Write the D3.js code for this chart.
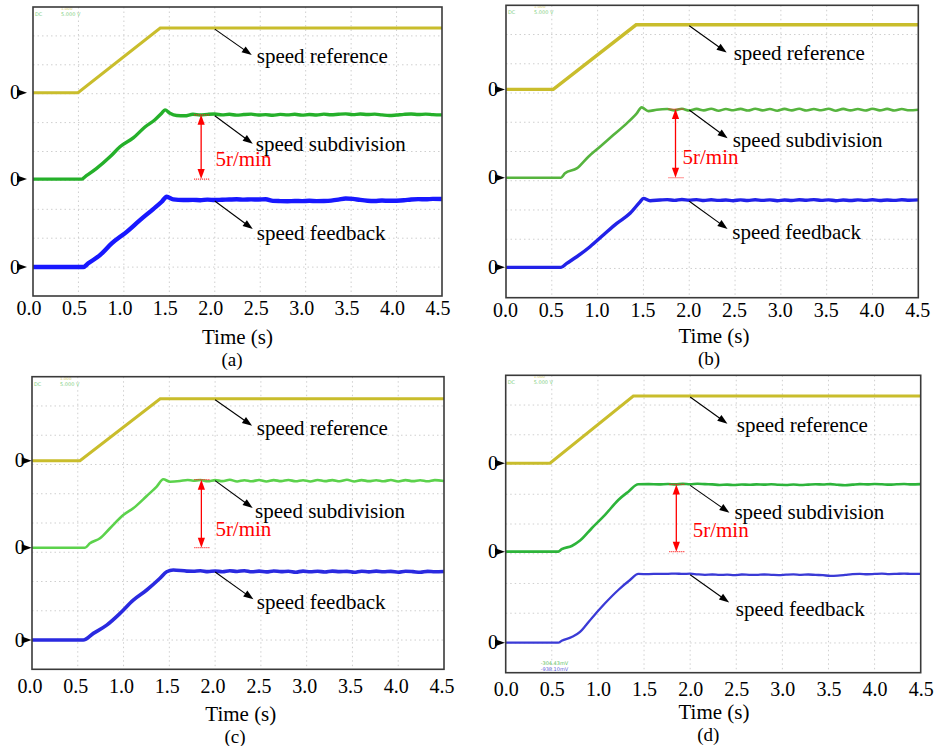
<!DOCTYPE html>
<html>
<head>
<meta charset="utf-8">
<script src="https://cdn.jsdelivr.net/npm/d3@7"></script>
<style>
  body { margin: 0; background: #fff; }
  svg { display: block; }
  text { font-family: "Liberation Serif", "Times New Roman", serif; }
</style>
</head>
<body>
<svg id="chart" width="935" height="746" font-family="Liberation Serif, serif"></svg>
<script>
// ---- shared labels ----
const xTicks = [0, 0.5, 1.0, 1.5, 2.0, 2.5, 3.0, 3.5, 4.0, 4.5];
const xTickLabels = ["0.0", "0.5", "1.0", "1.5", "2.0", "2.5", "3.0", "3.5", "4.0", "4.5"];
const panelLetters = ["(a)", "(b)", "(c)", "(d)"];
const traceNames = ["speed reference", "speed subdivision", "speed feedback"];
const axisTitle = "Time (s)";
const stepLabel = "5r/min";
const stepValue = 5;          // r/min marked by the red bracket
const stepTime = 1.85;        // s, where the bracket sits
const annotTime = 2.0;        // s, where the pointer arrows start

// channel zero levels on each screen (r/min, feedback channel at 0)
const refZero = [13.55, 12.95, 13.18, 13.34];
const subZero = [6.84, 6.52, 6.79, 6.77];
const fbZero  = [0, 0, 0, 0];

// ---- speed reference [t (s), r/min] ----
const refA = [[0, 0], [0.495, 0], [1.40, 5.03], [4.5, 5.03]];
const refB = [[0, 0], [0.516, 0], [1.42, 4.70], [4.5, 4.70]];
const refC = [[0, 0], [0.524, 0], [1.40, 4.56], [4.5, 4.56]];
const refD = [[0, 0], [0.48, 0], [1.384, 5.00], [4.5, 5.00]];

// ---- start-up part of subdivision / feedback traces [t, r/min] ----
const subRampA = [[0, 0], [0.536, 0], [0.572, 0.18], [0.70, 0.83], [0.847, 1.73], [0.957, 2.51], [1.103, 3.2], [1.232, 4.05], [1.342, 4.62], [1.416, 5.12], [1.452, 5.38], [1.507, 5.11], [1.58, 4.94], [1.67, 4.92]];
const fbRampA  = [[0, 0], [0.553, 0], [0.608, 0.29], [0.737, 0.93], [0.866, 1.84], [1.031, 2.74], [1.177, 3.65], [1.323, 4.51], [1.416, 5.08], [1.471, 5.47], [1.543, 5.26], [1.653, 5.21]];
const subRampB = [[0, 0], [0.60, 0], [0.644, 0.32], [0.772, 0.68], [0.899, 1.53], [1.026, 2.26], [1.171, 3.11], [1.318, 3.96], [1.427, 4.69], [1.481, 5.12], [1.553, 4.85], [1.645, 4.95]];
const fbRampB  = [[0, 0], [0.60, 0], [0.663, 0.29], [0.772, 0.77], [0.917, 1.5], [1.062, 2.35], [1.209, 3.2], [1.354, 3.93], [1.463, 4.77], [1.499, 5.02], [1.572, 4.85], [1.681, 4.9]];
const subRampC = [[0, 0], [0.579, 0], [0.633, 0.32], [0.743, 0.69], [0.852, 1.43], [0.997, 2.40], [1.106, 2.90], [1.253, 3.80], [1.362, 4.49], [1.434, 5.03], [1.507, 4.85], [1.616, 4.9], [1.70, 4.98]];
const fbRampC  = [[0, 0], [0.56, 0], [0.67, 0.49], [0.816, 1.10], [0.961, 1.96], [1.106, 2.94], [1.253, 3.68], [1.398, 4.54], [1.471, 5.02], [1.543, 5.15], [1.69, 5.07]];
const subRampD = [[0, 0], [0.57, 0], [0.607, 0.18], [0.716, 0.42], [0.806, 0.82], [0.933, 1.74], [1.077, 2.73], [1.221, 3.84], [1.33, 4.46], [1.438, 5.01], [1.55, 5.02], [1.66, 5.0]];
const fbRampD  = [[0, 0], [0.57, 0], [0.607, 0.15], [0.716, 0.42], [0.806, 0.80], [0.87, 1.30], [0.933, 1.82], [1.077, 2.93], [1.221, 3.92], [1.348, 4.66], [1.438, 5.11], [1.55, 5.10], [1.66, 5.12]];

// ---- steady-state samples (r/min) at these times ----
const tSteady = [1.76, 1.84, 1.92, 2.00, 2.08, 2.16, 2.24, 2.32, 2.40, 2.48, 2.56, 2.64, 2.72, 2.80, 2.88, 2.96, 3.04, 3.12, 3.20, 3.28, 3.36, 3.44, 3.52, 3.60, 3.68, 3.76, 3.84, 3.92, 4.00, 4.08, 4.16, 4.24, 4.32, 4.40, 4.50];
const subSteadyA = [5.04, 4.98, 5.03, 5.06, 4.99, 5.04, 4.97, 5.02, 5.05, 4.98, 5.01, 4.96, 5.03, 4.99, 5.04, 4.97, 5.02, 4.98, 5.05, 5.00, 5.04, 5.07, 5.01, 5.06, 5.02, 5.05, 4.99, 4.94, 4.98, 5.03, 5.06, 5.02, 5.05, 5.01, 4.99];
const fbSteadyA  = [5.22, 5.20, 5.24, 5.21, 5.23, 5.25, 5.27, 5.24, 5.26, 5.25, 5.27, 5.15, 5.13, 5.12, 5.14, 5.13, 5.15, 5.13, 5.14, 5.17, 5.24, 5.33, 5.30, 5.22, 5.16, 5.14, 5.17, 5.15, 5.16, 5.19, 5.25, 5.28, 5.27, 5.30, 5.29];
const subSteadyB = [5.00, 4.90, 5.02, 4.89, 5.01, 4.90, 5.02, 4.88, 5.00, 4.91, 5.01, 4.89, 5.02, 4.90, 5.00, 4.88, 5.01, 4.90, 5.02, 4.89, 5.00, 4.91, 5.02, 4.88, 5.01, 4.90, 5.00, 4.89, 5.02, 4.90, 5.01, 4.89, 5.00, 4.91, 4.95];
const fbSteadyB  = [4.93, 4.87, 4.94, 4.88, 4.93, 4.86, 4.92, 4.87, 4.90, 4.85, 4.91, 4.86, 4.92, 4.87, 4.91, 4.85, 4.90, 4.86, 4.92, 4.88, 4.93, 4.87, 4.91, 4.85, 4.90, 4.86, 4.91, 4.87, 4.92, 4.86, 4.90, 4.87, 4.92, 4.88, 4.91];
const subSteadyC = [4.92, 4.98, 4.88, 4.97, 4.89, 4.99, 4.87, 4.96, 4.88, 4.98, 4.87, 4.97, 4.89, 4.98, 4.88, 4.96, 4.87, 4.98, 4.89, 4.97, 4.88, 4.99, 4.87, 4.97, 4.89, 4.96, 4.88, 4.98, 4.87, 4.97, 4.89, 4.96, 4.88, 4.97, 4.90];
const fbSteadyC  = [5.06, 5.10, 5.03, 5.08, 5.02, 5.09, 5.04, 5.10, 5.02, 5.07, 5.01, 5.08, 5.03, 5.06, 4.99, 5.07, 5.02, 5.06, 5.00, 5.07, 5.03, 5.05, 4.98, 5.06, 5.01, 5.07, 5.02, 5.05, 4.99, 5.06, 5.03, 4.98, 5.05, 5.02, 5.04];
const subSteadyD = [5.03, 5.00, 5.04, 5.01, 5.05, 5.02, 5.00, 4.96, 4.98, 4.95, 4.99, 4.97, 5.00, 4.98, 5.01, 4.97, 4.96, 4.99, 4.95, 4.98, 5.01, 4.99, 5.02, 4.97, 4.94, 4.98, 5.02, 5.00, 5.03, 5.01, 4.98, 5.01, 5.03, 5.00, 5.02];
const fbSteadyD  = [5.12, 5.14, 5.11, 5.13, 5.08, 5.05, 5.07, 5.04, 5.06, 5.03, 5.07, 5.05, 5.04, 5.07, 5.05, 5.03, 5.06, 5.08, 5.05, 5.07, 5.04, 5.02, 4.97, 4.99, 5.04, 5.10, 5.12, 5.09, 5.11, 5.13, 5.10, 5.12, 5.14, 5.11, 5.12];

// ---- screen layout of the four panels ----
const layouts = [
  { x0: 33,    x1: 442,   y0: 7,     y1: 296,   yDom: [-2.25, 20.22], tickDx: -4.5, tickY: 315,   titleX: 237.5, titleY: 344,   letterX: 232,   letterY: 366,   tipX: 27 },
  { x0: 506,   x1: 918.3, y0: 5.3,   y1: 297.7, yDom: [-2.21, 19.07], tickDx: -1,   tickY: 316.7, titleX: 714,   titleY: 343,   letterX: 709,   letterY: 365,   tipX: 505 },
  { x0: 32,    x1: 444,   y0: 376.7, y1: 669.3, yDom: [-2.15, 19.36], tickDx: -2.5, tickY: 693.3, titleX: 240.8, titleY: 720.5, letterX: 235,   letterY: 742.5, tipX: 31.7 },
  { x0: 505.7, x1: 920.7, y0: 375.3, y1: 672.7, yDom: [-2.23, 19.88], tickDx: 0,    tickY: 696,   titleX: 714,   titleY: 719,   letterX: 708.3, letterY: 740.5, tipX: 505 }
];
// pointer arrows: [dx, dy] of arrow, [tx, ty] label offset from the arrow tip
const pointerOffsets = [
  [[37, 26, 5, 8],     [38, 28, 3, 7],       [38, 28, 4, 10.7]],
  [[37.4, 26.7, 7, 7.7], [38.4, 28.3, 5, 9],  [38.3, 27.6, 4.7, 10]],
  [[37, 26, 4.7, 9],   [37.6, 27.3, 2.4, 10.4], [38.3, 27.4, 3.3, 9.3]],
  [[37.3, 26.7, 9.3, 8.7], [39.3, 27.4, 5, 6], [39, 27.7, 6.7, 13.3]]
];
const stepTextOffsets = [[14.3, 19.5], [7, 20.8], [14, 22], [16.4, 18.7]];

// trace styles per panel
const refColor = "#c9bd2c";
const subColors = ["#25b02a", "#56b43e", "#5cd24c", "#2db43a"];
const fbColors  = ["#1818ff", "#2222e8", "#2a2ae0", "#3a3ad6"];
const refWidths = [3, 3.4, 3, 3];
const subWidths = [3.4, 2.6, 2.6, 2.6];
const fbWidths  = [4.4, 3.4, 3.6, 2.3];

const refs = [refA, refB, refC, refD];
const subRamps = [subRampA, subRampB, subRampC, subRampD];
const fbRamps = [fbRampA, fbRampB, fbRampC, fbRampD];
const subSteady = [subSteadyA, subSteadyB, subSteadyC, subSteadyD];
const fbSteady = [fbSteadyA, fbSteadyB, fbSteadyC, fbSteadyD];

const svg = d3.select("#chart");

function arrowHead(g, tipX, tipY, angle, len, half, color) {
  const c = Math.cos(angle), s = Math.sin(angle);
  const bx = tipX - c * len, by = tipY - s * len;
  const p = [[tipX, tipY], [bx - s * half, by + c * half], [bx + s * half, by - c * half]];
  g.append("path").attr("d", "M" + p.map(q => q.join(",")).join("L") + "Z").attr("fill", color);
}

layouts.forEach((L, i) => {
  const g = svg.append("g");
  const x = d3.scaleLinear().domain([0, 4.5]).range([L.x0, L.x1]);
  const y = d3.scaleLinear().domain(L.yDom).range([L.y1, L.y0]);
  const div = d3.scaleLinear().domain([0, 10]).range([L.y1, L.y0]);

  // screen grid
  g.append("g").selectAll("line").data(xTicks.slice(1, -1)).join("line")
    .attr("x1", d => x(d)).attr("x2", d => x(d)).attr("y1", L.y0).attr("y2", L.y1)
    .attr("stroke", "#cfcfcf").attr("stroke-width", 1).attr("stroke-dasharray", "1.5,3");
  g.append("g").selectAll("line").data(d3.range(1, 10)).join("line")
    .attr("x1", L.x0).attr("x2", L.x1).attr("y1", d => div(d)).attr("y2", d => div(d))
    .attr("stroke", "#cfcfcf").attr("stroke-width", 1).attr("stroke-dasharray", "1.5,3");

  // small scope read-outs
  g.append("text").attr("x", L.x0 + 2).attr("y", L.y0 + 9).attr("font-size", 5)
    .attr("fill", "#7fcf7f").style("font-family", "DejaVu Sans").text("DC");
  g.append("text").attr("x", L.x0 + 28).attr("y", L.y0 + 9).attr("font-size", 5)
    .attr("fill", "#7fcf7f").style("font-family", "DejaVu Sans").text("5.000 V");
  g.append("text").attr("x", L.x0 + 28).attr("y", L.y0 + 3).attr("font-size", 4)
    .attr("fill", "#d8d070").style("font-family", "DejaVu Sans").text("1.000");
  if (i === 3) {
    g.append("text").attr("x", L.x0 + 35).attr("y", L.y1 - 8).attr("font-size", 5)
      .attr("fill", "#5cc05c").style("font-family", "DejaVu Sans").text("-304.43mV");
    g.append("text").attr("x", L.x0 + 35).attr("y", L.y1 - 1.5).attr("font-size", 5)
      .attr("fill", "#5a5ad8").style("font-family", "DejaVu Sans").text("-938.10mV");
  }

  // traces
  const sub = subRamps[i].concat(tSteady.map((t, k) => [t, subSteady[i][k]]));
  const fb = fbRamps[i].concat(tSteady.map((t, k) => [t, fbSteady[i][k]]));
  const lineOn = zero => d3.line().x(d => x(d[0])).y(d => y(zero + d[1]));

  g.append("path").datum(refs[i]).attr("d", lineOn(refZero[i]).curve(d3.curveLinear))
    .attr("fill", "none").attr("stroke", refColor).attr("stroke-width", refWidths[i]);
  g.append("path").datum(sub).attr("d", lineOn(subZero[i]).curve(d3.curveMonotoneX))
    .attr("fill", "none").attr("stroke", subColors[i]).attr("stroke-width", subWidths[i]).attr("stroke-linejoin", "round");
  g.append("path").datum(fb).attr("d", lineOn(fbZero[i]).curve(d3.curveMonotoneX))
    .attr("fill", "none").attr("stroke", fbColors[i]).attr("stroke-width", fbWidths[i]).attr("stroke-linejoin", "round");

  // frame
  g.append("rect").attr("x", L.x0).attr("y", L.y0).attr("width", L.x1 - L.x0).attr("height", L.y1 - L.y0)
    .attr("fill", "none").attr("stroke", "#3a3a3a").attr("stroke-width", 1.6);

  // channel zero markers
  [refZero[i], subZero[i], fbZero[i]].forEach(z => {
    const yy = y(z);
    g.append("text").attr("x", L.tipX - 7).attr("y", yy + 6.5).attr("text-anchor", "end")
      .attr("font-size", 20).attr("fill", "#000").text("0");
    g.append("path").attr("d", `M${L.tipX - 10},${yy - 3.5}L${L.tipX},${yy}L${L.tipX - 10},${yy + 3.5}Z`).attr("fill", "#000");
  });

  // time axis
  const ax = g.append("g").attr("transform", `translate(${L.tickDx},0)`)
    .call(d3.axisBottom(x).tickValues(xTicks).tickFormat((d, k) => xTickLabels[k]).tickSize(0));
  ax.attr("font-family", null);
  ax.select(".domain").remove();
  ax.selectAll("text").attr("y", L.tickY).attr("dy", 0).attr("font-size", 20)
    .attr("fill", "#000").style("font-family", "'Liberation Serif', serif");
  g.append("text").attr("x", L.titleX).attr("y", L.titleY).attr("text-anchor", "middle")
    .attr("font-size", 21).text(axisTitle);
  g.append("text").attr("x", L.letterX).attr("y", L.letterY).attr("text-anchor", "middle")
    .attr("font-size", 19).text(panelLetters[i]);

  // pointer arrows and trace names
  const levels = [
    refZero[i] + refs[i][2][1],
    subZero[i] + stepValue,
    fbZero[i] + fbSteady[i][tSteady.indexOf(annotTime)]
  ];
  levels.forEach((lv, k) => {
    const [dx, dy, tx, ty] = pointerOffsets[i][k];
    const sx = x(annotTime), sy = y(lv) + 1;
    const ex = sx + dx, ey = sy + dy;
    const ang = Math.atan2(dy, dx);
    g.append("line").attr("x1", sx).attr("y1", sy).attr("x2", ex - Math.cos(ang) * 6).attr("y2", ey - Math.sin(ang) * 6)
      .attr("stroke", "#000").attr("stroke-width", 1.1);
    arrowHead(g, ex, ey, ang, 10, 3.6, "#000");
    g.append("text").attr("x", ex + tx).attr("y", ey + ty).attr("font-size", 21).attr("fill", "#000").text(traceNames[k]);
  });

  // 5 r/min bracket on the subdivision channel
  const bx = x(stepTime), yTop = y(subZero[i] + stepValue), yBot = y(subZero[i]);
  [yTop, yBot].forEach(yy => {
    g.append("line").attr("x1", bx - 7).attr("x2", bx + 8).attr("y1", yy).attr("y2", yy)
      .attr("stroke", "#ff2020").attr("stroke-width", 1.2).attr("stroke-dasharray", "1,1");
  });
  g.append("line").attr("x1", bx).attr("x2", bx).attr("y1", yTop + 8).attr("y2", yBot - 8)
    .attr("stroke", "#ff0000").attr("stroke-width", 1.3);
  arrowHead(g, bx, yTop, -Math.PI / 2, 10, 3.6, "#ff0000");
  arrowHead(g, bx, yBot, Math.PI / 2, 10, 3.6, "#ff0000");
  const [sdx, sdy] = stepTextOffsets[i];
  g.append("text").attr("x", bx + sdx).attr("y", (yTop + yBot) / 2 + sdy).attr("font-size", 21)
    .attr("fill", "#ff0000").text(stepLabel);
});
</script>
</body>
</html>
